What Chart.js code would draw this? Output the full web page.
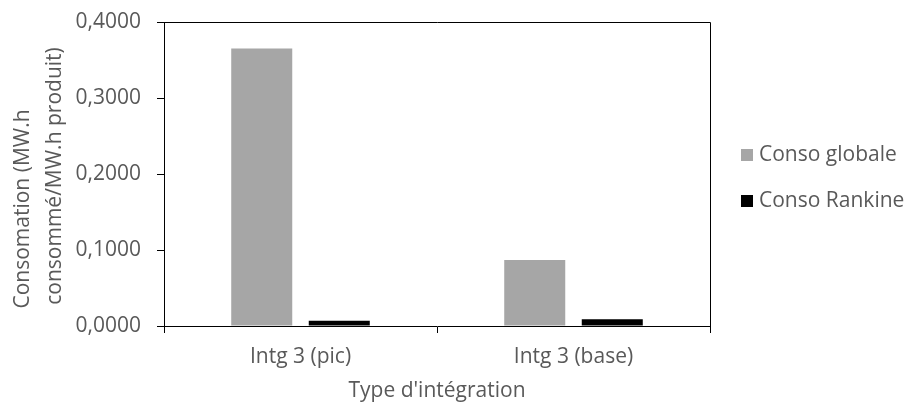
<!DOCTYPE html>
<html>
<head>
<meta charset="utf-8">
<script src="https://cdn.jsdelivr.net/npm/chart.js@4.4.1/dist/chart.umd.min.js"></script>
<style>
  html, body { margin: 0; padding: 0; background: #fff; }
  #wrap { width: 906px; height: 407px; position: relative; }
</style>
</head>
<body>
<div id="wrap"><canvas id="chart"></canvas></div>
<script>
const categories = ['Intg 3 (pic)', 'Intg 3 (base)'];
const consoGlobale = [0.365, 0.087];
const consoRankine = [0.007, 0.009];
const seriesNames = ['Conso globale', 'Conso Rankine'];
const yTicks = [0, 0.1, 0.2, 0.3, 0.4];
const yTitleLines = ['Consomation (MW.h', 'consommé/MW.h produit)'];

const textColor = '#595959';
const fontFamily = '"Open Sans", sans-serif';
const fontSize = 21;

// box round the plot area (top and right sides)
const framePlugin = {
	id: 'frame',
	afterDraw(chart) {
		const a = chart.chartArea;
		const ctx = chart.ctx;
		ctx.save();
		ctx.strokeStyle = '#000';
		ctx.lineWidth = 1;
		ctx.beginPath();
		ctx.moveTo(a.left, a.top + 0.5);
		ctx.lineTo(a.right + 0.5, a.top + 0.5);
		ctx.lineTo(a.right + 0.5, a.bottom);
		ctx.stroke();
		ctx.restore();
	}
};

// legend on the right + rotated y title, drawn by hand
const sideText = {
	id: 'sideText',
	afterDraw(chart) {
		const ctx = chart.ctx;
		ctx.save();
		ctx.font = fontSize + 'px ' + fontFamily;
		ctx.textBaseline = 'middle';
		chart.data.datasets.forEach((ds, i) => {
			const y = 155 + i * 46;
			ctx.fillStyle = ds.backgroundColor;
			ctx.fillRect(741, y - 6, 12, 12);
			ctx.fillStyle = textColor;
			ctx.fillText(ds.label, 759, y);
		});

		ctx.fillStyle = textColor;
		ctx.textAlign = 'center';
		const pos = [[23, 209], [55, 176]];
		yTitleLines.forEach((t, i) => {
			ctx.save();
			ctx.translate(pos[i][0], pos[i][1]);
			ctx.rotate(-Math.PI / 2);
			ctx.fillText(t, 0, 0);
			ctx.restore();
		});
		ctx.restore();
	}
};

new Chart(document.getElementById('chart'), {
	type: 'bar',
	data: {
		labels: categories,
		datasets: [
			{ label: seriesNames[0], data: consoGlobale, backgroundColor: '#A6A6A6' },
			{ label: seriesNames[1], data: consoRankine, backgroundColor: '#000000' }
		]
	},
	options: {
		responsive: true,
		maintainAspectRatio: false,
		animation: false,
		categoryPercentage: 0.568,
		barPercentage: 0.787,
		layout: { padding: { top: 22, right: 196, left: 0, bottom: 0 } },
		plugins: {
			legend: { display: false },
			tooltip: { enabled: false }
		},
		scales: {
			x: {
				offset: true,
				afterFit(scale) { scale.height = 81; },
				grid: { offset: true, drawOnChartArea: false, color: '#000', tickLength: 7 },
				border: { color: '#000' },
				ticks: { color: textColor, font: { family: fontFamily, size: fontSize }, padding: 11 },
				title: { display: true, text: "Type d'intégration", color: textColor, font: { family: fontFamily, size: fontSize }, padding: { top: 0, bottom: 3 } }
			},
			y: {
				min: 0,
				max: 0.4,
				afterBuildTicks(scale) { scale.ticks = yTicks.map(v => ({ value: v })); },
				afterFit(scale) {
					scale.width = 164;
					scale.paddingTop = 0;
					scale.paddingBottom = 0;
				},
				grid: { drawOnChartArea: false, color: '#000', tickLength: 7 },
				border: { color: '#000' },
				ticks: {
					color: textColor,
					font: { family: fontFamily, size: fontSize },
					padding: 16,
					callback: v => v.toFixed(4).replace('.', ',')
				}
			}
		}
	},
	plugins: [framePlugin, sideText]
});
</script>
</body>
</html>
